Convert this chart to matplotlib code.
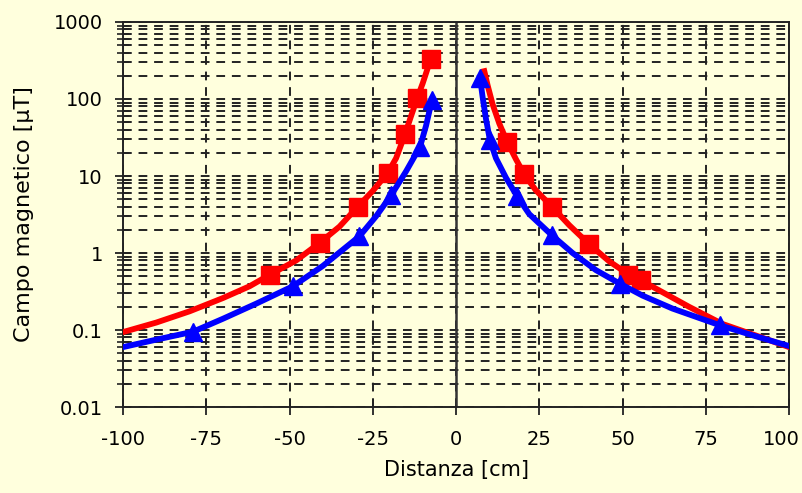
import numpy as np
import matplotlib
matplotlib.use("Agg")
import matplotlib.pyplot as plt
from matplotlib.ticker import FixedLocator, FuncFormatter, LogLocator, NullFormatter
from matplotlib.transforms import ScaledTranslation

plt.rcParams["font.family"] = "DejaVu Sans"
plt.rcParams["axes.unicode_minus"] = False

BG = "#FFFFDD"

# curves (distance in cm, field in uT)
red_left_x = [-100, -90, -80, -70, -62, -56, -48, -41, -35, -29.5, -25, -20.5, -18, -15.3, -13.5, -11.6, -10, -8.8, -7.6]
red_left_y = [0.094, 0.125, 0.175, 0.26, 0.37, 0.52, 0.8, 1.35, 2.2, 4.0, 6.4, 11, 17, 35, 60, 104, 160, 230, 330]
red_right_x = [8.5, 9.5, 11, 13, 15.3, 18, 20.5, 24, 28.8, 34, 40, 46, 52, 56, 62, 70, 80, 90, 100]
red_right_y = [230, 150, 85, 48, 28, 16.5, 10.5, 6.5, 4.0, 2.3, 1.3, 0.78, 0.52, 0.43, 0.31, 0.2, 0.12, 0.085, 0.06]

blue_left_x = [-100, -90, -79, -70, -60, -49, -40, -29, -24, -19.5, -15, -10.8, -9, -7.2]
blue_left_y = [0.06, 0.075, 0.095, 0.14, 0.22, 0.37, 0.68, 1.65, 3.0, 5.6, 11.5, 24, 45, 98]
blue_right_x = [7.2, 8, 9, 10.2, 12, 15, 18.3, 22, 28.8, 35, 42, 49.2, 56, 65, 79.3, 90, 100]
blue_right_y = [190, 105, 55, 29, 17, 9.5, 5.5, 3.2, 1.7, 1.0, 0.6, 0.4, 0.28, 0.19, 0.115, 0.083, 0.062]

# measured points (markers)
red_pts_x = [-55.9, -40.8, -29.4, -20.4, -15.3, -11.6, -7.6, 15.3, 20.5, 28.8, 40, 51.5, 55.5]
red_pts_y = [0.52, 1.35, 4.0, 11, 35, 104, 330, 28, 10.5, 4.0, 1.3, 0.52, 0.45]
blue_pts_x = [-79, -49, -29, -19.5, -10.8, -7.2, 7.2, 10.2, 18.3, 28.8, 49.2, 79.3]
blue_pts_y = [0.095, 0.37, 1.65, 5.6, 24, 98, 190, 29, 5.5, 1.7, 0.4, 0.115]

x_ticks = [-100, -75, -50, -25, 0, 25, 50, 75, 100]
y_ticks = [0.01, 0.1, 1, 10, 100, 1000]

fig = plt.figure(figsize=(8.02, 4.93), dpi=100, facecolor=BG)
ax = fig.add_axes([0.1534, 0.1744, 0.8304, 0.781])
ax.set_facecolor(BG)

ax.set_yscale("log")
ax.set_xlim(-100, 100)
ax.set_ylim(0.01, 1000)

dash = (0, (4.5, 3.5))
ax.yaxis.set_major_locator(FixedLocator(y_ticks))
ax.yaxis.set_minor_locator(LogLocator(base=10, subs=np.arange(2, 10)))
ax.yaxis.set_major_formatter(FuncFormatter(lambda v, _: f"{v:g}"))
ax.yaxis.set_minor_formatter(NullFormatter())
ax.xaxis.set_major_locator(FixedLocator(x_ticks))

ax.grid(which="both", axis="y", color="#222222", linestyle=dash, linewidth=1.4)
ax.grid(which="major", axis="x", color="#222222", linestyle=dash, linewidth=1.4)
ax.axvline(0, color="#333333", linewidth=1.8, zorder=2)

lw = 4.2
ax.plot(red_left_x, red_left_y, color="#FF0000", lw=lw, zorder=3)
ax.plot(red_right_x, red_right_y, color="#FF0000", lw=lw, zorder=3)
ax.plot(red_pts_x, red_pts_y, ls="none", marker="s", ms=12.5, color="#FF0000", zorder=4)
ax.plot(blue_left_x, blue_left_y, color="#0000FF", lw=lw, zorder=5)
ax.plot(blue_right_x, blue_right_y, color="#0000FF", lw=lw, zorder=5)
ax.plot(blue_pts_x, blue_pts_y, ls="none", marker="^", ms=13, color="#0000FF", zorder=6)

for s in ax.spines.values():
    s.set_color("#222222")
    s.set_linewidth(1.4)

ax.tick_params(which="major", direction="inout", length=11, width=1.3, labelsize=14, color="#222222")
ax.tick_params(which="minor", direction="inout", length=9, width=1.2, color="#222222")
ax.tick_params(axis="x", which="major", pad=11)
ax.tick_params(axis="y", which="major", pad=9)

# last x label would run off the right edge: pin its right side to the figure edge
fig.canvas.draw()
last = ax.get_xticklabels()[-1]
last.set_horizontalalignment("right")
last.set_transform(last.get_transform() + ScaledTranslation(11 / 100, 0, fig.dpi_scale_trans))

ax.set_xlabel("Distanza [cm]", fontsize=15, labelpad=8)
ax.set_ylabel("Campo magnetico [µT]", fontsize=16, labelpad=14)

fig.savefig("out.png", dpi=100, facecolor=BG)
